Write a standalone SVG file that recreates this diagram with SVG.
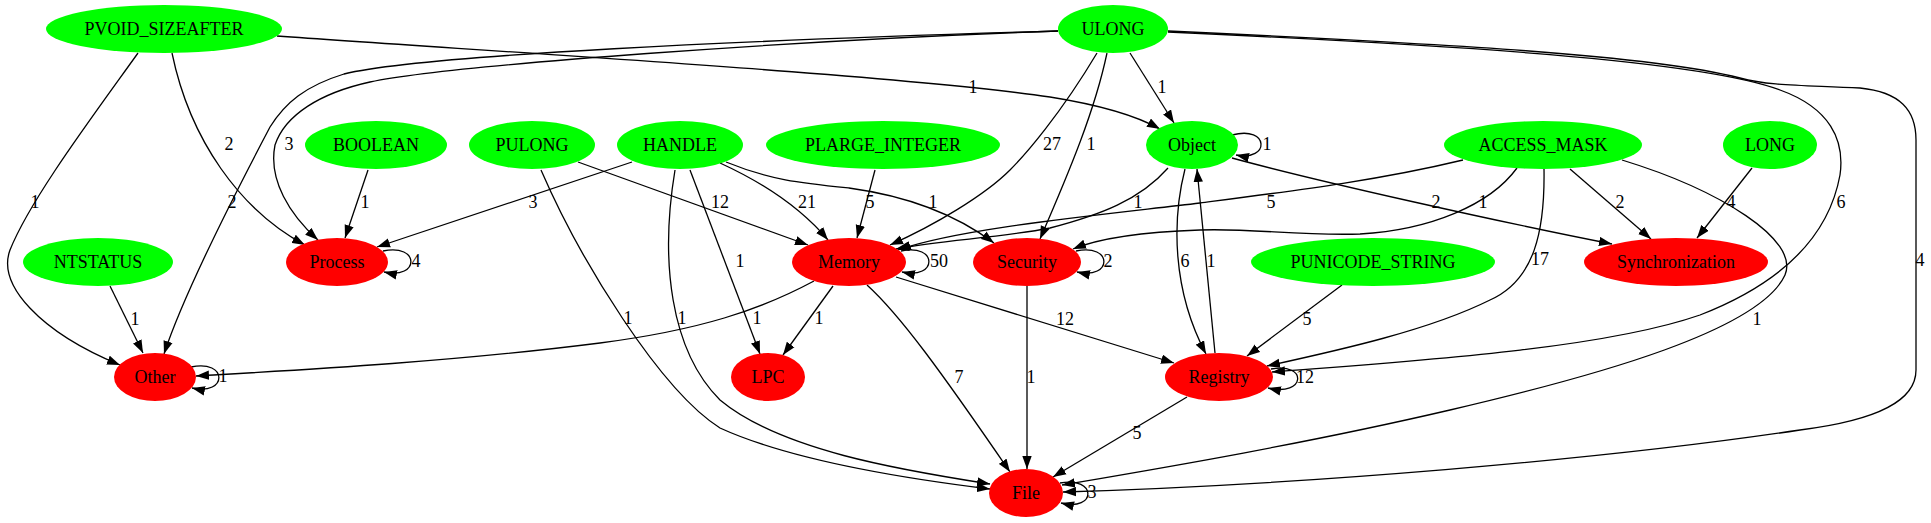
<svg xmlns="http://www.w3.org/2000/svg" width="1931" height="523" viewBox="0 0 1931 523">
<style>
.g{fill:#00ff00}
.r{fill:#ff0000}
.t{font-family:"Liberation Serif","Times New Roman",serif;font-size:18px;fill:#000;text-anchor:middle}
.e{fill:none;stroke:#000;stroke-width:1.3;marker-end:url(#ah)}
</style>
<defs>
<marker id="ah" markerWidth="14" markerHeight="10" refX="13" refY="5" orient="auto" markerUnits="userSpaceOnUse"><path d="M0,0.3 L13,5 L0,9.7 z" fill="#000"/></marker>
</defs>
<rect width="1931" height="523" fill="#fff"/>
<g id="edges">
<path class="e" d="M138,53 C 90,120 30,200 10,250 C -3,285 40,332 120,365"/>
<path class="e" d="M172,53 C 190,140 240,210 305,245"/>
<path class="e" d="M277,36 C 500,52 900,75 1050,97 C 1100,105 1135,115 1160,129"/>
<path class="e" d="M1058,31 C 800,40 450,65 370,82 C 320,93 285,115 275,145 C 268,180 290,215 318,240"/>
<path class="e" d="M1058,31 C 750,40 420,55 344,74 C 305,86 285,103 270,127 C 250,165 185,290 164,354"/>
<path class="e" d="M1130,53 L1174,123"/>
<path class="e" d="M1097,53 C 1060,115 1025,155 1010,170 C 985,195 935,225 890,245"/>
<path class="e" d="M1107,53 C 1095,110 1070,170 1040,239"/>
<path class="e" d="M1168,32 C 1450,45 1700,60 1780,90 C 1830,108 1845,140 1840,175 C 1830,230 1790,280 1700,315 C 1600,350 1400,362 1272,372"/>
<path class="e" d="M1168,31 C 1450,44 1650,55 1740,78 C 1770,86 1800,85 1860,88 C 1900,92 1916,110 1916,140 L1916,370 C 1916,400 1880,420 1800,430 C 1600,460 1300,485 1063,492"/>
<path class="e" d="M368,170 L345,238"/>
<path class="e" d="M578,162 L808,245"/>
<path class="e" d="M541,170 C 580,260 660,390 720,428 C 790,460 900,478 990,489"/>
<path class="e" d="M632,162 L377,247"/>
<path class="e" d="M720,163 Q 790,195 828,240"/>
<path class="e" d="M726,162 C 770,180 800,183 849,188 C 900,195 950,210 994,243"/>
<path class="e" d="M690,170 L760,354"/>
<path class="e" d="M675,170 C 660,260 670,350 720,400 C 780,450 900,470 990,484"/>
<path class="e" d="M875,170 L857,238"/>
<path class="e" d="M1232,135 C 1270,125 1270,162 1236,155"/>
<path class="e" d="M1168,168 C 1140,200 1100,215 1050,228 C 1000,238 940,240 896,249"/>
<path class="e" d="M1463,160 C 1380,180 1300,190 1200,203 C 1100,215 960,228 898,250"/>
<path class="e" d="M1517,168 C 1490,205 1430,230 1360,234 C 1300,236 1250,228 1200,230 C 1140,232 1100,238 1073,249"/>
<path class="e" d="M1232,158 C 1320,182 1500,222 1612,244"/>
<path class="e" d="M1185,169 C 1172,220 1172,290 1206,354"/>
<path class="e" d="M1215,353 L1197,169"/>
<path class="e" d="M1570,169 L1651,239"/>
<path class="e" d="M1544,169 C 1545,230 1535,280 1490,300 C 1430,330 1340,350 1267,366"/>
<path class="e" d="M1622,160 C 1720,190 1800,240 1785,275 C 1760,330 1600,375 1450,410 C 1300,445 1150,470 1062,485"/>
<path class="e" d="M1752,168 L1697,238"/>
<path class="e" d="M110,286 L143,353"/>
<path class="e" d="M1342,285 L1247,356"/>
<path class="e" d="M383,251 C 420,243 420,280 384,272"/>
<path class="e" d="M901,251 C 938,243 938,280 902,272"/>
<path class="e" d="M814,281 C 760,310 700,330 600,343 C 450,362 300,370 196,376"/>
<path class="e" d="M833,286 L783,355"/>
<path class="e" d="M896,277 L1174,363"/>
<path class="e" d="M867,285 C 900,315 940,370 1010,472"/>
<path class="e" d="M1076,251 C 1113,243 1113,280 1077,272"/>
<path class="e" d="M1027,286 L1027,469"/>
<path class="e" d="M1271,369 C 1308,362 1306,397 1268,388"/>
<path class="e" d="M1187,397 L1053,477"/>
<path class="e" d="M191,367 C 228,359 228,396 192,388"/>
<path class="e" d="M1060,483 C 1097,476 1097,512 1061,503"/>
<g class="t">
<text x="35" y="208">1</text>
<text x="229" y="150">2</text>
<text x="973" y="93">1</text>
<text x="289" y="150">3</text>
<text x="232" y="208">2</text>
<text x="1162" y="93">1</text>
<text x="1052" y="150">27</text>
<text x="1091" y="150">1</text>
<text x="1841" y="208">6</text>
<text x="1920" y="266">4</text>
<text x="365" y="208">1</text>
<text x="533" y="208">3</text>
<text x="807" y="208">21</text>
<text x="933" y="208">1</text>
<text x="740" y="267">1</text>
<text x="682" y="324">1</text>
<text x="720" y="208">12</text>
<text x="628" y="324">1</text>
<text x="870" y="208">5</text>
<text x="1267" y="150">1</text>
<text x="1138" y="208">1</text>
<text x="1436" y="208">2</text>
<text x="1185" y="267">6</text>
<text x="1211" y="267">1</text>
<text x="1271" y="208">5</text>
<text x="1483" y="208">1</text>
<text x="1620" y="208">2</text>
<text x="1540" y="265">17</text>
<text x="1757" y="325">1</text>
<text x="1731" y="208">4</text>
<text x="135" y="325">1</text>
<text x="1307" y="325">5</text>
<text x="416" y="267">4</text>
<text x="939" y="267">50</text>
<text x="757" y="324">1</text>
<text x="819" y="324">1</text>
<text x="1065" y="325">12</text>
<text x="959" y="383">7</text>
<text x="1108" y="267">2</text>
<text x="1031" y="383">1</text>
<text x="1305" y="383">12</text>
<text x="1137" y="439">5</text>
<text x="223" y="382">1</text>
<text x="1092" y="498">3</text>
</g>
</g>
<g id="node-PVOID_SIZEAFTER"><ellipse class="g" cx="164" cy="29" rx="118" ry="24"/><text class="t" x="164" y="35">PVOID_SIZEAFTER</text></g>
<g id="node-ULONG"><ellipse class="g" cx="1113" cy="29" rx="55" ry="24"/><text class="t" x="1113" y="35">ULONG</text></g>
<g id="node-BOOLEAN"><ellipse class="g" cx="376" cy="145" rx="71" ry="24"/><text class="t" x="376" y="151">BOOLEAN</text></g>
<g id="node-PULONG"><ellipse class="g" cx="532" cy="145" rx="63" ry="24"/><text class="t" x="532" y="151">PULONG</text></g>
<g id="node-HANDLE"><ellipse class="g" cx="680" cy="145" rx="63" ry="24"/><text class="t" x="680" y="151">HANDLE</text></g>
<g id="node-PLARGE_INTEGER"><ellipse class="g" cx="883" cy="145" rx="117" ry="24"/><text class="t" x="883" y="151">PLARGE_INTEGER</text></g>
<g id="node-Object"><ellipse class="g" cx="1192" cy="145" rx="46" ry="24"/><text class="t" x="1192" y="151">Object</text></g>
<g id="node-ACCESS_MASK"><ellipse class="g" cx="1543" cy="145" rx="99" ry="24"/><text class="t" x="1543" y="151">ACCESS_MASK</text></g>
<g id="node-LONG"><ellipse class="g" cx="1770" cy="145" rx="47" ry="24"/><text class="t" x="1770" y="151">LONG</text></g>
<g id="node-NTSTATUS"><ellipse class="g" cx="98" cy="262" rx="75" ry="24"/><text class="t" x="98" y="268">NTSTATUS</text></g>
<g id="node-PUNICODE_STRING"><ellipse class="g" cx="1373" cy="262" rx="122" ry="24"/><text class="t" x="1373" y="268">PUNICODE_STRING</text></g>
<g id="node-Process"><ellipse class="r" cx="337" cy="262" rx="51" ry="24"/><text class="t" x="337" y="268">Process</text></g>
<g id="node-Memory"><ellipse class="r" cx="849" cy="262" rx="57" ry="24"/><text class="t" x="849" y="268">Memory</text></g>
<g id="node-Security"><ellipse class="r" cx="1027" cy="262" rx="54" ry="24"/><text class="t" x="1027" y="268">Security</text></g>
<g id="node-Synchronization"><ellipse class="r" cx="1676" cy="262" rx="92" ry="24"/><text class="t" x="1676" y="268">Synchronization</text></g>
<g id="node-Other"><ellipse class="r" cx="155" cy="377" rx="41" ry="24"/><text class="t" x="155" y="383">Other</text></g>
<g id="node-LPC"><ellipse class="r" cx="768" cy="377" rx="37" ry="24"/><text class="t" x="768" y="383">LPC</text></g>
<g id="node-Registry"><ellipse class="r" cx="1219" cy="377" rx="54" ry="24"/><text class="t" x="1219" y="383">Registry</text></g>
<g id="node-File"><ellipse class="r" cx="1026" cy="493" rx="37" ry="24"/><text class="t" x="1026" y="499">File</text></g>
</svg>
